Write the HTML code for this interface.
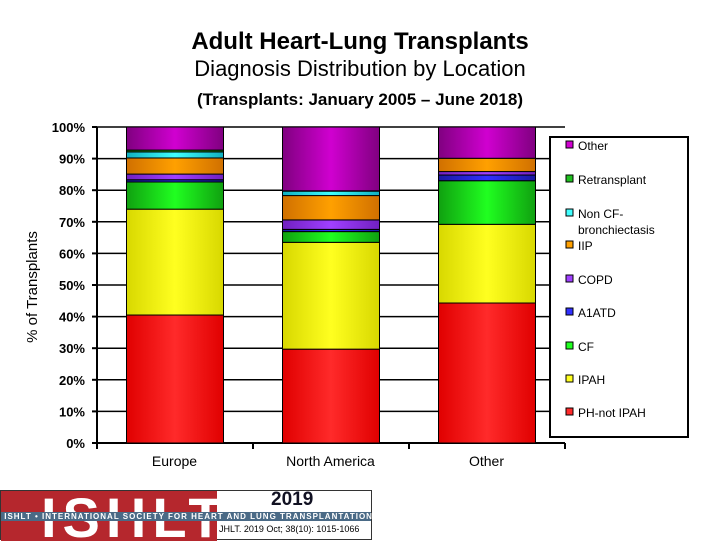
<!DOCTYPE html>
<html><head><meta charset="utf-8"><style>
body{margin:0;width:720px;height:540px;background:#fff;font-family:"Liberation Sans",sans-serif;overflow:hidden;position:relative}
.t{position:absolute;left:0;width:720px;text-align:center;font-weight:bold;color:#000}
</style></head><body>
<div class="t" style="top:28px;font-size:24px">Adult Heart-Lung Transplants</div>
<div class="t" style="top:56px;font-size:22px;font-weight:normal">Diagnosis Distribution by Location</div>
<div class="t" style="top:90px;font-size:17px">(Transplants: January 2005 – June 2018)</div>
<svg id="c" width="720" height="540" style="position:absolute;left:0;top:0">
<defs id="defs"></defs>
</svg>
<div style="position:absolute;left:0;top:490px;width:372px;height:50px;border:1px solid #333;box-sizing:border-box;background:#fff">
 <div style="position:absolute;left:0;top:0;width:216px;height:50px;background:#b5272d"></div>
 <div style="position:absolute;left:40px;top:-6px;font-size:56px;font-weight:bold;color:#fff;letter-spacing:6px">ISHLT</div>
 <div style="position:absolute;left:0;top:21px;width:370px;height:9px;background:#4a6a86;color:#fff;font-size:8px;font-weight:bold;line-height:9px;white-space:nowrap;letter-spacing:1px">&nbsp;ISHLT • INTERNATIONAL SOCIETY FOR HEART AND LUNG TRANSPLANTATION</div>
 <div style="position:absolute;left:270px;top:-2px;font-size:19px;font-weight:bold;color:#112">2019</div>
 <div style="position:absolute;left:218px;top:33px;font-size:9px;color:#000">JHLT. 2019 Oct; 38(10): 1015-1066</div>
</div>
<script>
const categories=["Europe","North America","Other"];
const seriesNames=["PH-not IPAH","IPAH","CF","A1ATD","COPD","IIP","Non CF-bronchiectasis","Retransplant","Other"];
const phNotIpah=[40.5,29.7,44.3];
const ipah=[33.5,33.8,24.9];
const cf=[8.6,3.4,13.8];
const a1atd=[0.7,0.7,1.8];
const copd=[1.8,3.0,1.1];
const iip=[5.1,7.7,4.2];
const nonCf=[1.9,1.4,0];
const retransplant=[0.6,0.1,0];
const other=[7.3,20.2,9.9];
const yTicks=[0,10,20,30,40,50,60,70,80,90,100];
const series=[phNotIpah,ipah,cf,a1atd,copd,iip,nonCf,retransplant,other];
const colors=[["#e00000","#ff2a2a"],["#d8d800","#ffff20"],["#10a010","#20ff20"],["#1818a0","#3030ff"],["#7020c0","#a040ff"],["#d07000","#ffa000"],["#10b0c0","#40ffff"],["#107010","#20c020"],["#800080","#d000d0"]];
const ns="http://www.w3.org/2000/svg";
const svg=document.getElementById('c'),defs=document.getElementById('defs');
const X0=97,X1=565,Y0=443,Y1=127;
const y=v=>Y0-(v/100)*(Y0-Y1);
const bandW=(X1-X0)/categories.length;
const x=i=>X0+bandW*i+(bandW-97)/2;
function mk(t,a){const e=document.createElementNS(ns,t);for(const k in a)e.setAttribute(k,a[k]);return e;}
colors.forEach((c,i)=>{const g=mk('linearGradient',{id:'g'+i,x1:0,x2:1,y1:0,y2:0});
 g.appendChild(mk('stop',{offset:'0','stop-color':c[0]}));g.appendChild(mk('stop',{offset:'0.5','stop-color':c[1]}));g.appendChild(mk('stop',{offset:'1','stop-color':c[0]}));defs.appendChild(g);});
yTicks.forEach(v=>{
 const l=mk('line',{x1:X0,x2:X1,y1:y(v),y2:y(v),stroke:'#000','stroke-width':1.5});
 
 
 svg.appendChild(l);
 svg.appendChild(mk('line',{x1:X0-5,x2:X0,y1:y(v),y2:y(v),stroke:'#000','stroke-width':2}));
 const t=mk('text',{x:X0-12,y:y(v)+5,'text-anchor':'end','font-size':13,'font-weight':'bold','font-family':'Liberation Sans'});
 t.textContent=v+'%';
 
 
 svg.appendChild(t);
});
svg.appendChild(mk('line',{x1:X0,x2:X0,y1:Y1,y2:Y0,stroke:'#000','stroke-width':2}));
svg.appendChild(mk('line',{x1:X0,x2:X1,y1:Y0,y2:Y0,stroke:'#000','stroke-width':2}));
for(let i=0;i<=categories.length;i++)svg.appendChild(mk('line',{x1:X0+bandW*i,x2:X0+bandW*i,y1:Y0,y2:Y0+6,stroke:'#000','stroke-width':2}));
categories.forEach((c,i)=>{
 let cum=0;
 series.forEach((s,j)=>{
  const v=s[i];if(v>0){
  const r=mk('rect',{x:x(i),width:97,y:y(cum+v),height:y(cum)-y(cum+v),fill:'url(#g'+j+')',stroke:'#000','stroke-width':1});
  
  
  svg.appendChild(r);}
  cum+=v;
 });
 const t=mk('text',{x:x(i)+48,y:466,'text-anchor':'middle','font-size':14,'font-family':'Liberation Sans'});
 t.textContent=c;
 
 
 svg.appendChild(t);
});
const yt=mk('text',{x:37,y:287,'text-anchor':'middle','font-size':15,'font-family':'Liberation Sans',transform:'rotate(-90 37 287)'});
yt.textContent='% of Transplants';


svg.appendChild(yt);
const lg=mk('rect',{x:550,y:137,width:138,height:300,fill:'#fff',stroke:'#000','stroke-width':2});


svg.appendChild(lg);
const ly=[413,380,347,313,280,246,214,180,146];
const labels=[["PH-not IPAH"],["IPAH"],["CF"],["A1ATD"],["COPD"],["IIP"],["Non CF-","bronchiectasis"],["Retransplant"],["Other"]];
labels.forEach((lb,j)=>{
 const g=mk('g',{});
 
 
 g.appendChild(mk('rect',{x:566,y:ly[j]-5,width:7,height:7,fill:colors[j][1],stroke:'#000','stroke-width':1}));
 lb.forEach((s,k)=>{const t=mk('text',{x:578,y:ly[j]+4+k*16,'font-size':12,'font-family':'Liberation Sans'});t.textContent=s;g.appendChild(t);});
 svg.appendChild(g);
});
</script>
</body></html>
